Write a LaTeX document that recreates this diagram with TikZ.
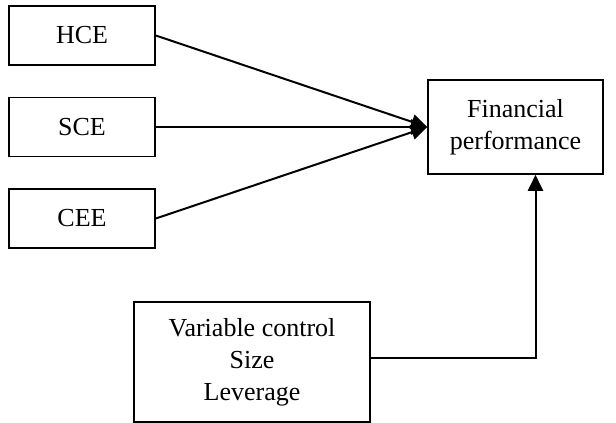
\documentclass[tikz,border=0pt]{standalone}
\usepackage{fontspec}
\setmainfont{Liberation Serif}
\usetikzlibrary{arrows.meta}
\begin{document}
\begin{tikzpicture}[x=1pt,y=1pt,
  box/.style={draw,line width=0.8pt,align=center,inner sep=0pt,font=\fontsize{13}{16}\selectfont},
  link/.style={line width=1pt,-{Triangle[length=8pt,width=7.5pt]}}]
  \useasboundingbox (0,0) rectangle (308,211.5);
  \node[box,minimum width=73pt,minimum height=29.5pt] (hce) at (41,193.75) {HCE};
  \node[box,minimum width=73pt,minimum height=29.5pt] (sce) at (41,148) {SCE};
  \node[box,minimum width=73pt,minimum height=29.5pt] (cee) at (41,102.25) {CEE};
  \node[box,minimum width=87.5pt,minimum height=47pt] (fin) at (257.75,148) {Financial\\performance};
  \node[box,minimum width=118pt,minimum height=60pt] (var) at (126,30.5) {Variable control\\Size\\Leverage};
  \draw[link] (hce.east) -- (fin.west);
  \draw[link] (sce.east) -- (fin.west);
  \draw[link] (cee.east) -- (fin.west);
  \draw[link] ([yshift=2pt]var.east) -| ([xshift=10pt]fin.south);
\end{tikzpicture}
\end{document}
